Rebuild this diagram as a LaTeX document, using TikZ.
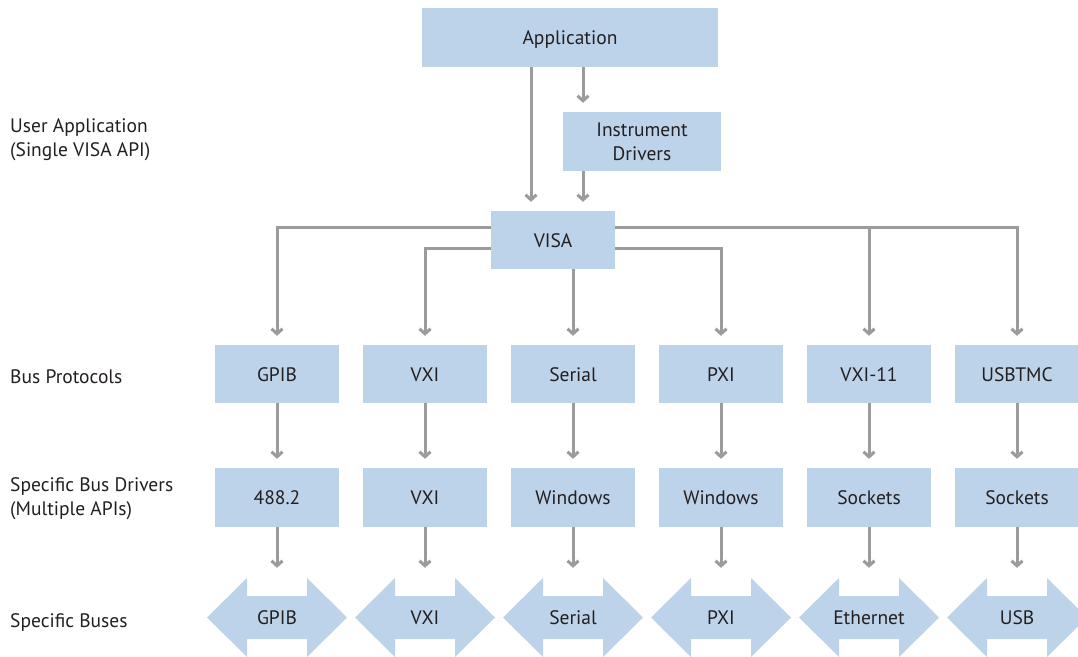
\documentclass[tikz,border=0pt]{standalone}
\usepackage{fontspec}
\setmainfont{PT Sans}
\usetikzlibrary{arrows.meta}
\definecolor{boxblue}{HTML}{BDD3E9}
\definecolor{linegray}{HTML}{9B9B9B}
\definecolor{txtc}{HTML}{231F20}
\begin{document}
\begin{tikzpicture}[x=1pt,y=-1pt,
  txtfont/.style={font=\fontsize{19.5}{24}\selectfont, text=txtc},
  box/.style={txtfont, fill=boxblue, draw=none, inner sep=0pt, align=center},
  capbox/.style={box, text height=14pt, text depth=0pt},
  rowbox/.style={capbox, minimum width=124pt, minimum height=58pt},
  lbl/.style={txtfont, inner sep=0pt, align=left},
  bustxt/.style={txtfont, inner sep=0pt, text height=14pt, text depth=0pt, minimum height=80pt},
  conn/.style={draw=linegray, line width=3pt},
  arr/.style={conn, -{Straight Barb[length=5pt,width=11pt]}, shorten >=9pt}
]
\useasboundingbox (0,0) rectangle (1078,656);

% top boxes
\node[capbox, minimum width=296pt, minimum height=59pt] (app) at (570,37.5) {Application};
\node[box, minimum width=158pt, minimum height=59pt] (drv) at (642,141.5) {Instrument\\Drivers};
\node[capbox, minimum width=124pt, minimum height=58pt] (visa) at (553,240) {VISA};

% rows
\foreach \x/\n/\t in {277/p1/GPIB, 425/p2/VXI, 573/p3/Serial, 721/p4/PXI, 869/p5/VXI-11, 1017/p6/USBTMC}
  \node[rowbox] (\n) at (\x,374) {\t};
\foreach \x/\n/\t in {277/d1/488.2, 425/d2/VXI, 573/d3/Windows, 721/d4/Windows, 869/d5/Sockets, 1017/d6/Sockets}
  \node[rowbox, minimum height=59pt] (\n) at (\x,497.5) {\t};

% bus double arrows
\foreach \x/\n/\t in {277/b1/GPIB, 425/b2/VXI, 573/b3/Serial, 721/b4/PXI, 869/b5/Ethernet, 1017/b6/USB} {
  \fill[boxblue] (\x-70,617.5) -- (\x-30,578) -- (\x-30,596) -- (\x+30,596) -- (\x+30,578)
    -- (\x+70,617.5) -- (\x+30,657) -- (\x+30,639) -- (\x-30,639) -- (\x-30,657) -- cycle;
  \node[bustxt] (\n) at (\x,617) {\t};
}

% left labels
\node[lbl, anchor=west] (l1) at (10,140) {User Application\\(Single VISA API)};
\node[lbl, anchor=base west] (l2) at (10,383) {Bus Protocols};
\node[lbl, anchor=west] (l3) at (10,499) {Specific Bus Drivers\\(Multiple APIs)};
\node[lbl, anchor=base west] (l4) at (10,627) {Specific Buses};

% top connectors
\draw[arr] ([xshift=-39pt]app.south) -- ([xshift=-22pt]visa.north);
\draw[arr] ([xshift=13pt]app.south) -- ([xshift=-59pt]drv.north);
\draw[arr] ([xshift=-59pt]drv.south) -- ([xshift=30pt]visa.north);

% VISA distribution
\coordinate (wl) at ([yshift=13pt]visa.west);
\coordinate (el) at ([yshift=13pt]visa.east);
\coordinate (wk) at ([yshift=-8pt]visa.west);
\coordinate (ek) at ([yshift=-8pt]visa.east);
\draw[arr] (wl) -| (p1);
\draw[arr] (el) -| (p6);
\draw[arr] (el -| p5) -- (p5);
\draw[arr] (wk) -| (p2);
\draw[arr] (ek) -| (p4);
\draw[arr] (visa.south -| p3) -- (p3);

% vertical arrows
\foreach \i in {1,...,6} {
  \draw[arr] (p\i) -- (d\i);
  \draw[arr] (d\i) -- (b\i);
}
\end{tikzpicture}
\end{document}
